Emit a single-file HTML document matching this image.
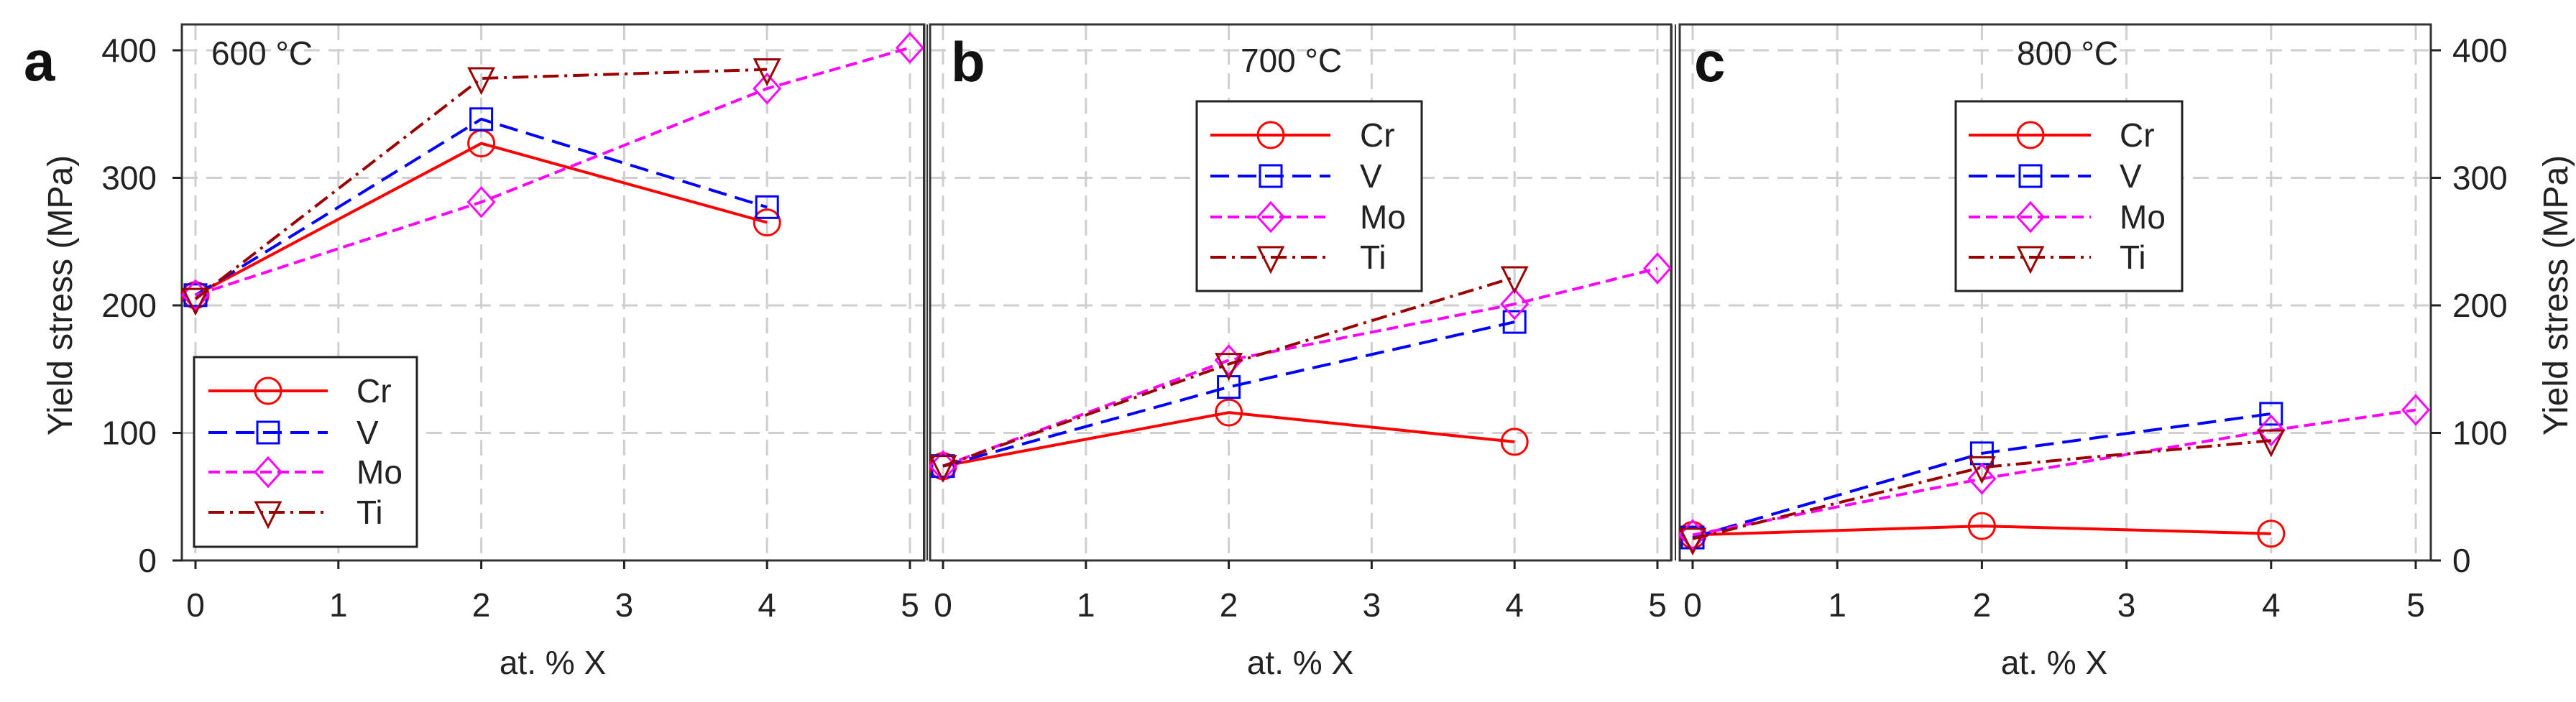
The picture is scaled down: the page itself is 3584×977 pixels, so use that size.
<!DOCTYPE html>
<html><head><meta charset="utf-8"><style>
html,body{margin:0;padding:0;background:#fff;}
svg{display:block;font-family:"Liberation Sans",Arial,sans-serif;}
</style></head><body>
<svg id="chart" width="3584" height="977" viewBox="0 0 3584 977" xmlns="http://www.w3.org/2000/svg"></svg>
<script>
const xTicks=[0,1,2,3,4,5];
const yTicks=[0,100,200,300,400];
const seriesNames=["Cr","V","Mo","Ti"];
const xCr=[0,2,4], xV=[0,2,4], xMo=[0,2,4,5], xTi=[0,2,4];
const a_Cr=[208,327,265], a_V=[208,346,277], a_Mo=[208,281,370,402], a_Ti=[205,378,385];
const b_Cr=[74,116,93], b_V=[74,136,187], b_Mo=[74,157,201,229], b_Ti=[74,154,222];
const c_Cr=[20,27,21], c_V=[18,84,115], c_Mo=[20,64,102,118], c_Ti=[17,73,94];
const panelLabels=["a","b","c"];
const panelTemps=["600 °C","700 °C","800 °C"];

const NS="http://www.w3.org/2000/svg";
const svg=document.getElementById('chart');
function mk(tag,attrs,parent){const e=document.createElementNS(NS,tag);for(const k in attrs)e.setAttribute(k,attrs[k]);(parent||svg).appendChild(e);return e;}
const styles={Cr:{c:"#ff0000",d:"none",m:"circle"},V:{c:"#0000ff",d:"26 12",m:"square"},Mo:{c:"#ff00ff",d:"16 8",m:"diamond"},Ti:{c:"#990000",d:"22 8 4 8",m:"tri"}};
const Y0=780,Y400=70;
function ys(v){return Y0+(Y400-Y0)*v/400;}
const panels=[
 {x0:272,x5:1266,fl:253,fr:1286,data:{Cr:a_Cr,V:a_V,Mo:a_Mo,Ti:a_Ti},leg:{x:270,y:497,w:310,h:264,ly:[544,602,657,713],l1:290,l2:456,mx:373,tx:496},lab:{x:33,y:112},temp:{x:294,y:90,anchor:"start"}},
 {x0:1312,x5:2306,fl:1294,fr:2325,data:{Cr:b_Cr,V:b_V,Mo:b_Mo,Ti:b_Ti},leg:{x:1665,y:141,w:313,h:264,ly:[188,245,302,358],l1:1684,l2:1851,mx:1768,tx:1892},lab:{x:1323,y:113},temp:{x:1726,y:100,anchor:"start"}},
 {x0:2355,x5:3361,fl:2337,fr:3382,data:{Cr:c_Cr,V:c_V,Mo:c_Mo,Ti:c_Ti},leg:{x:2721,y:141,w:315,h:264,ly:[188,245,302,358],l1:2739,l2:2909,mx:2825,tx:2949},lab:{x:2357,y:113},temp:{x:2806,y:90,anchor:"start"}}
];
const xsArr={Cr:xCr,V:xV,Mo:xMo,Ti:xTi};
function marker(g,type,cx,cy,col){
 const s=18;let e;
 if(type==="circle")e=mk('circle',{cx:cx,cy:cy,r:s,fill:"none",stroke:col,"stroke-width":3},g);
 else if(type==="square")e=mk('rect',{x:cx-15,y:cy-15,width:30,height:30,fill:"none",stroke:col,"stroke-width":3},g);
 else if(type==="diamond")e=mk('polygon',{points:`${cx},${cy-20} ${cx+18},${cy} ${cx},${cy+20} ${cx-18},${cy}`,fill:"none",stroke:col,"stroke-width":3},g);
 else e=mk('polygon',{points:`${cx-17},${cy-14} ${cx+17},${cy-14} ${cx},${cy+20}`,fill:"none",stroke:col,"stroke-width":3},g);
 return e;
}
panels.forEach((p,pi)=>{
 const g=mk('g',{});
 
 
 const xs=v=>p.x0+(p.x5-p.x0)*v/5;
 // grid
 yTicks.slice(1).forEach(t=>{const l=mk('line',{x1:p.fl,x2:p.fr,y1:ys(t),y2:ys(t),stroke:"#cfcfcf","stroke-width":3,"stroke-dasharray":"22 12"},g);});
 xTicks.forEach(t=>{const l=mk('line',{x1:xs(t),x2:xs(t),y1:34,y2:Y0,stroke:"#cfcfcf","stroke-width":3,"stroke-dasharray":"22 12"},g);});
 // frame
 const fr=mk('rect',{x:p.fl,y:34,width:p.fr-p.fl,height:Y0-34,fill:"none",stroke:"#333","stroke-width":3},g);
 
 // x ticks
 xTicks.forEach(t=>{mk('line',{x1:xs(t),x2:xs(t),y1:Y0,y2:Y0+12,stroke:"#222","stroke-width":3},g);
  const tx=mk('text',{x:xs(t),y:858,"font-size":46,"text-anchor":"middle",fill:"#222"},g);tx.textContent=t;
  });
 const xt=mk('text',{x:(p.x0+p.x5)/2,y:938,"font-size":46,"text-anchor":"middle",fill:"#222"},g);xt.textContent="at. % X";
 
 // panel label and temp
 const lb=mk('text',{x:p.lab.x,y:p.lab.y,"font-size":78,"font-weight":"bold",fill:"#111"},g);lb.textContent=panelLabels[pi];
 
 const tp=mk('text',{x:p.temp.x,y:p.temp.y,"font-size":46,"text-anchor":p.temp.anchor,fill:"#222"},g);tp.textContent=panelTemps[pi];
 
 // series
 seriesNames.forEach(n=>{
  const st=styles[n],xv=xsArr[n],yv=p.data[n];
  const sg=mk('g',{},g);
  
  const pts=yv.map((v,i)=>xs(xv[i])+","+ys(v)).join(" ");
  const pl=mk('polyline',{points:pts,fill:"none",stroke:st.c,"stroke-width":4,"stroke-dasharray":st.d},sg);
  
  yv.forEach((v,i)=>{const m=marker(sg,st.m,xs(xv[i]),ys(v),st.c);});
 });
 // legend
 const L=p.leg;
 const lg=mk('g',{},g);
 
 mk('rect',{x:L.x,y:L.y,width:L.w,height:L.h,fill:"#fff",stroke:"#222","stroke-width":3},lg);
 seriesNames.forEach((n,i)=>{
  const st=styles[n],y=L.ly[i];
  const e=mk('g',{},lg);
  
  mk('line',{x1:L.l1,x2:L.l2,y1:y,y2:y,stroke:st.c,"stroke-width":4,"stroke-dasharray":st.d},e);
  marker(e,st.m,L.mx,y,st.c);
  const t=mk('text',{x:L.tx,y:y+16,"font-size":46,fill:"#222"},e);t.textContent=n;
 });
});
// separators (double lines)
[[1285,1290],[2326,2331]].forEach(s=>s.forEach(x=>{const l=mk('line',{x1:x,x2:x,y1:34,y2:Y0,stroke:"#333","stroke-width":2});}));
// left y axis
yTicks.forEach(t=>{mk('line',{x1:240,x2:253,y1:ys(t),y2:ys(t),stroke:"#222","stroke-width":3});
 const tx=mk('text',{x:218,y:ys(t)+16,"font-size":46,"text-anchor":"end",fill:"#222"});tx.textContent=t;
 });
// right y axis
yTicks.forEach(t=>{mk('line',{x1:3382,x2:3396,y1:ys(t),y2:ys(t),stroke:"#222","stroke-width":3});
 const tx=mk('text',{x:3412,y:ys(t)+16,"font-size":46,"text-anchor":"start",fill:"#222"});tx.textContent=t;
 });
const yl=mk('text',{x:0,y:0,"font-size":48,"text-anchor":"middle",fill:"#222",transform:"translate(100,411) rotate(-90)"});
yl.textContent="Yield stress (MPa)";

const yr=mk('text',{x:0,y:0,"font-size":48,"text-anchor":"middle",fill:"#222",transform:"translate(3572,411) rotate(-90)"});
yr.textContent="Yield stress (MPa)";

</script>
</body></html>
